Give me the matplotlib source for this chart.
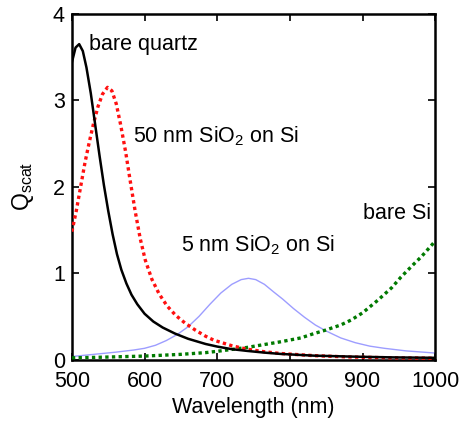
import matplotlib
matplotlib.use("Agg")
import matplotlib.pyplot as plt

plt.rcParams['font.family'] = ['Liberation Sans', 'DejaVu Sans']
plt.rcParams['mathtext.fontset'] = 'custom'
plt.rcParams['mathtext.rm'] = 'Liberation Sans'
plt.rcParams['mathtext.it'] = 'Liberation Sans'

# bare quartz
wl_quartz = [500, 505, 510, 515, 520, 526, 532, 538, 544, 550, 556, 562, 568, 575, 582,
             590, 600, 612, 625, 642, 660, 684, 700, 720, 741, 765, 787, 833, 880, 940, 1000]
q_quartz = [3.44, 3.61, 3.65, 3.57, 3.38, 3.08, 2.72, 2.36, 2.02, 1.72, 1.45, 1.22, 1.04,
            0.88, 0.75, 0.64, 0.53, 0.44, 0.37, 0.30, 0.24, 0.18, 0.15, 0.12, 0.10, 0.08,
            0.065, 0.045, 0.035, 0.025, 0.02]

# 50 nm SiO2 on Si
wl_50nm = [500, 506, 512, 518, 524, 530, 536, 542, 549, 555, 561, 567, 574, 580, 587, 594,
           601, 610, 620, 631, 643, 656, 670, 684, 695, 720, 741, 765, 787, 833, 880, 940, 1000]
q_50nm = [1.48, 1.72, 2.00, 2.28, 2.52, 2.74, 2.93, 3.07, 3.15, 3.11, 2.96, 2.72, 2.40, 2.08,
          1.72, 1.40, 1.15, 0.93, 0.76, 0.62, 0.51, 0.42, 0.34, 0.27, 0.225, 0.16, 0.12,
          0.09, 0.07, 0.045, 0.03, 0.02, 0.015]

# 5 nm SiO2 on Si
wl_5nm = [500, 530, 560, 585, 600, 615, 630, 645, 660, 675, 690, 705, 720, 733, 743, 753,
          765, 778, 790, 805, 820, 835, 850, 870, 890, 910, 930, 960, 1000]
q_5nm = [0.035, 0.06, 0.085, 0.11, 0.13, 0.165, 0.22, 0.29, 0.38, 0.50, 0.64, 0.77, 0.87,
         0.925, 0.94, 0.925, 0.87, 0.78, 0.70, 0.59, 0.49, 0.40, 0.33, 0.25, 0.195, 0.155,
         0.13, 0.10, 0.075]

# bare Si
wl_si = [500, 532, 600, 650, 684, 700, 741, 787, 815, 833, 849, 870, 884, 900, 921, 940,
         953, 970, 981, 1000]
q_si = [0.02, 0.025, 0.04, 0.06, 0.08, 0.095, 0.14, 0.205, 0.25, 0.30, 0.34, 0.40, 0.456,
        0.54, 0.686, 0.83, 0.955, 1.10, 1.19, 1.37]

x_ticks = [500, 600, 700, 800, 900, 1000]
y_ticks = [0, 1, 2, 3, 4]

fig = plt.figure(figsize=(4.61, 4.21), dpi=100)
ax = fig.add_axes([0.156, 0.146, 0.788, 0.821])

ax.plot(wl_5nm, q_5nm, color='#8c8cff', lw=1.0, alpha=0.85, zorder=2)
ax.plot(wl_si, q_si, color='#007a00', lw=2.4, ls=(0, (1, 1)), zorder=3)
ax.plot(wl_50nm, q_50nm, color='#ff1010', lw=2.4, ls=(0, (1, 1)), zorder=3)
ax.plot(wl_quartz, q_quartz, color='black', lw=1.8, zorder=4)

fs = 15.5
ax.text(524, 3.58, 'bare quartz', fontsize=fs, va='baseline')
ax.text(584, 2.51, '50 nm SiO$_2$ on Si', fontsize=fs, va='baseline')
ax.text(650, 1.255, '5 nm SiO$_2$ on Si', fontsize=fs, va='baseline')
ax.text(901, 1.63, 'bare Si', fontsize=fs, va='baseline')

ax.set_xlim(500, 1000)
ax.set_ylim(0, 4)
ax.set_xticks(x_ticks)
ax.set_yticks(y_ticks)
ax.tick_params(direction='in', top=True, right=True, length=5, width=1.2,
               labelsize=fs)
ax.tick_params(axis='x', pad=8)
ax.tick_params(axis='y', pad=5)
for s in ax.spines.values():
    s.set_linewidth(1.8)

ax.set_xlabel('Wavelength (nm)', fontsize=fs, labelpad=4)
ax.set_ylabel('Q$_{\\mathrm{scat}}$', fontsize=16.5, labelpad=12)

fig.savefig('out.png', dpi=100)
